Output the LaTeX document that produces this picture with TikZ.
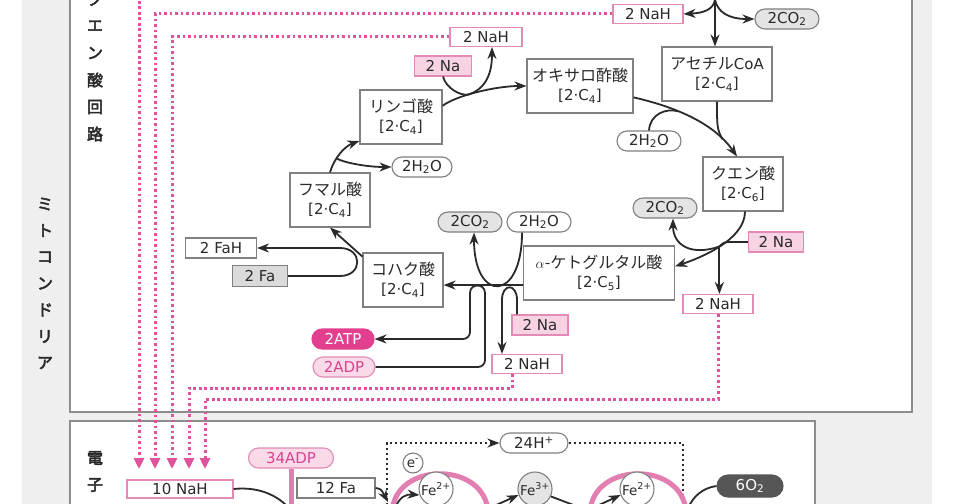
\documentclass[tikz,border=0pt]{standalone}
\usepackage{fontspec}
\setmainfont{DejaVu Sans}
\newfontfamily\jpfont{Noto Sans CJK JP}
\newfontfamily\jpbold[FakeBold=3]{Noto Sans CJK JP}
\usetikzlibrary{arrows.meta}
\usetikzlibrary{calc}
\definecolor{ink}{HTML}{2A2A2A}
\definecolor{boxline}{HTML}{808080}
\definecolor{panelline}{HTML}{8C8C8C}
\definecolor{bggray}{HTML}{EFEFEF}
\definecolor{gasfill}{HTML}{E4E4E4}
\definecolor{fafill}{HTML}{DADADA}
\definecolor{pinkline}{HTML}{E48AB6}
\definecolor{pinkfill}{HTML}{F8D3E3}
\definecolor{dotpink}{HTML}{E0529C}
\definecolor{atpfill}{HTML}{E2408E}
\definecolor{adpfill}{HTML}{FAD9E8}
\definecolor{adptext}{HTML}{D8438E}
\definecolor{arcpink}{HTML}{E27FB0}
\definecolor{oxyfill}{HTML}{565656}
\newcommand{\jp}[1]{{\jpfont\fontsize{16}{19}\selectfont #1}}
\newcommand{\cfour}{[2·C\textsubscript{4}]}
\newcommand{\cfive}{[2·C\textsubscript{5}]}
\newcommand{\csix}{[2·C\textsubscript{6}]}
\newcommand{\cotwo}{2CO\textsubscript{2}}
\newcommand{\htwoo}{2H\textsubscript{2}O}
\newcommand{\sidefont}{\jpbold\fontsize{16}{16}\selectfont}
\begin{document}
\begin{tikzpicture}[x=1pt,y=-1pt, font=\fontsize{15}{19}\selectfont, text=ink,
  acid/.style={draw=boxline, fill=white, line width=1.1pt, align=center, minimum height=54pt, inner sep=0pt},
  nahbox/.style={draw=pinkline, fill=white, line width=1.1pt, minimum height=19pt, minimum width=70pt, inner sep=0pt},
  nabox/.style={nahbox, fill=pinkfill, minimum width=56pt, minimum height=20pt},
  fabox/.style={draw=boxline, fill=white, line width=1.1pt, minimum height=20pt, inner sep=0pt},
  pill/.style={draw=boxline, fill=white, line width=1.1pt, rounded corners=10pt, minimum height=20pt, minimum width=64pt, inner sep=0pt},
  gas/.style={pill, fill=gasfill},
  atp/.style={pill, draw=atpfill, fill=atpfill, text=white, minimum width=62pt},
  adp/.style={pill, draw=pinkline, fill=adpfill, text=adptext, minimum width=62pt},
  ion/.style={circle, draw=boxline, fill=white, line width=1.1pt, minimum size=34pt, inner sep=0pt, font=\fontsize{13.5}{14}\selectfont},
  link/.style={draw=ink, line width=1.8pt},
  flow/.style={link, -{Stealth[length=12pt,width=9pt]}},
  nahline/.style={draw=dotpink, line width=3pt, dash pattern=on 2.6pt off 2.9pt, -{Triangle[length=11pt,width=10pt]}},
  hline/.style={draw=ink, line width=2.4pt, dash pattern=on 2.4pt off 2.6pt},
  panel/.style={draw=panelline, line width=2.5pt, fill=white},
  pinkarc/.style={draw=arcpink, line width=5pt}]
\useasboundingbox (0,0) rectangle (960,503);
\fill[white] (0,0) rectangle (960,503);
\fill[bggray] (22,-5) rectangle (932,510);
\draw[panel] (70,-10) rectangle (912,412);
\draw[panel] (70,421) rectangle (815,520);
% side labels
\foreach \ch [count=\i] in {ミ,ト,コ,ン,ド,リ,ア} {
  \node[font=\sidefont] at (45,{204+26.5*(\i-1)}) {\ch};
}
\foreach \ch [count=\i] in {ク,エ,ン,酸,回,路} {
  \node[font=\sidefont] at (95,{-1+27*(\i-1)}) {\ch};
}
\node[font=\sidefont] at (95,458) {電};
\node[font=\sidefont] at (95,485) {子};

% acetyl CoA
\coordinate (pyr) at (715,-10);
\coordinate (j1) at (715,0);
\node[nahbox] (nah1) at (648,14) {2 NaH};
\node[gas] (co2a) at (787,19) {\cotwo};
\node[acid, minimum width=110pt] (acoa) at (717,74) {\jp{アセチル}CoA\\\cfour};
\draw[link] (pyr) -- (j1);
\draw[flow] (j1) -- (acoa.north -| j1);
\draw[flow] (j1) .. controls (713,10) and (703,13) .. (nah1.east);
\draw[flow] (j1) .. controls (718,12) and (728,19) .. (co2a.west);

% oxaloacetic acid, malic acid
\node[acid, minimum width=106pt] (oxa) at (580,86) {\jp{オキサロ酢酸}\\\cfour};
\node[nahbox, minimum width=72pt] (nah2) at (486,37) {2 NaH};
\node[nabox, minimum width=57pt] (na1) at (443,66) {2 Na};
\node[acid, minimum width=82pt] (mal) at (401,117) {\jp{リンゴ酸}\\\cfour};
\draw[flow] (mal.15) .. controls (455,96) and (495,86) .. coordinate[pos=0.4] (j2) (oxa.west);
\draw[link] (na1.south) .. controls (446,88) and (460,96) .. (j2);
\draw[flow] (j2) .. controls (488,88) and (492,70) .. ([xshift=6pt]nah2.south);

% fumaric acid
\node[acid, minimum width=80pt] (fum) at (330,200) {\jp{フマル酸}\\\cfour};
\node[pill, minimum width=60pt] (h2oa) at (422,167) {\htwoo};
\draw[flow] (fum.north) .. controls (334,158) and (345,146) .. coordinate[pos=0.35] (j3) (mal.-150);
\draw[flow] (j3) .. controls (342,162) and (365,167) .. (h2oa.west);

% succinic acid
\node[fabox, minimum width=71pt] (fah) at (221,248) {2 FaH};
\node[fabox, fill=fafill, minimum width=55pt, minimum height=21pt] (fa) at (260,276) {2 Fa};
\node[acid, minimum width=80pt] (suc) at (403,280) {\jp{コハク酸}\\\cfour};
\draw[flow] (suc.150) -- (fum.south);
\draw[flow] (fa.east) -- (340,276) .. controls (363,276) and (363,248) .. (340,248) -- (fah.east);

% alpha-ketoglutaric acid
\node[acid, minimum width=151pt] (akg) at (599,273) {$\alpha$\jp{-ケトグルタル酸}\\\cfive};
\node[gas] (co2b) at (470,222) {\cotwo};
\node[pill] (h2ob) at (539,222) {\htwoo};
\draw[flow] (akg.-171) -- (akg.-171 -| suc.east);
\draw[flow] ([xshift=-17pt]h2ob.south) .. controls (522,303) and (474,303) .. ([xshift=4pt]co2b.south);
\node[atp] (atp) at (343,339) {2ATP};
\node[adp] (adp) at (344,367) {2ADP};
\draw[flow, rounded corners=7pt] (adp.east) -- (485,367) -- (485,300) .. controls (485,283) and (470,283) .. (470,300) -- (470,339) -- (atp.east);
\node[nabox] (na2) at (540,325) {2 Na};
\node[nahbox] (nah3) at (527,364) {2 NaH};
\draw[flow] ([xshift=-23pt]na2.north) -- (517,300) .. controls (517,283) and (502,283) .. (502,300) -- ([xshift=-25pt]nah3.north);

% citric acid
\node[acid, minimum width=80pt] (cit) at (743,184) {\jp{クエン酸}\\\csix};
\node[pill] (h2oc) at (649,141) {\htwoo};
\draw[flow] (oxa.-12) .. controls (680,108) and (715,125) .. coordinate[pos=0.35] (jw) coordinate[pos=0.8] (jc) ([xshift=-6pt]cit.north);
\draw[link] (acoa.south) .. controls (717,128) .. (jc);
\draw[link] (h2oc.north) .. controls (650,114) and (666,108) .. (jw);
\node[gas] (co2c) at (665,208) {\cotwo};
\node[nabox, minimum width=55pt] (na3) at (776,242) {2 Na};
\node[nahbox] (nah4) at (718,304) {2 NaH};
\draw[flow] ([xshift=2pt]cit.south) .. controls (745,240) and (700,258) .. coordinate[pos=0.5] (jk) (akg.5);
\draw[flow] (jk) .. controls (692,256) and (673,246) .. ([xshift=8pt]co2c.south);
\draw[link] (na3.west) -- (732,242) .. controls (724,242) .. (jk);
\draw[flow] (jk) -- (jk |- nah4.north);

% NaH to the electron transport chain
\foreach \x [count=\i] in {139,155,172,189,205} {
  \coordinate (tip\i) at (\x,469);
}
\draw[nahline] (139,-10) -- (tip1);
\draw[nahline] (nah1.west) -| (tip2);
\draw[nahline] (nah2.west) -| (tip3);
\draw[nahline] ([xshift=-15pt]nah3.south) -- ++(0,14) -| (tip4);
\draw[nahline] (nah4.south) -- ++(0,85) -| (tip5);

% electron transport chain
\node[nahbox, minimum width=106pt, minimum height=18pt] (nah10) at (180,489) {10 NaH};
\node[adp, minimum width=85pt] (adp34) at (291,458) {34ADP};
\draw[draw=arcpink, line width=5pt] (adp34.south) -- ++(0,60);
\node[fabox, minimum width=78pt] (fa12) at (336,488) {12 Fa};
\coordinate (out10) at (292,512);
\draw[link] (nah10.east) .. controls (262,486) and (282,498) .. (out10);
\coordinate (infa) at (388,502);
\draw[flow] (fa12.east) .. controls (381,489) .. (infa);
\node[pill, minimum width=68pt] (h24) at (534,443) {24H\textsuperscript{+}};
\draw[hline, -{Stealth[length=12pt,width=9pt]}] (387,510) -- (387,443) -- (h24.west);
\draw[hline] (h24.east) -- (683,443) -- (683,510);
\draw[pinkarc] (392,512) .. controls (395,461) and (485,461) .. (488,512);
\draw[pinkarc] (590,512) .. controls (593,461) and (683,461) .. (686,512);
\node[ion] (fe1) at (436,489) {Fe\textsuperscript{2+}};
\node[ion, fill=gasfill] (fe2) at (535,489) {Fe\textsuperscript{3+}};
\node[ion] (fe3) at (637,489) {Fe\textsuperscript{2+}};
\node[ion, minimum size=20pt] (el) at (413,463) {e\textsuperscript{-}};
\coordinate (in1) at (396,506);
\coordinate (in2) at (494,506);
\coordinate (out2) at (576,506);
\coordinate (in3) at (597,506);
\draw[flow] (in1) .. controls (400,497) and (406,494) .. (fe1.200);
\draw[flow] (in2) -- (fe2.200);
\draw[link] (fe2.-25) -- (out2);
\draw[flow] (in3) -- (fe3.200);
\node[pill, draw=oxyfill, fill=oxyfill, text=white, minimum width=66pt, minimum height=22pt, rounded corners=11pt] (o2) at (750,486) {6O\textsubscript{2}};
\coordinate (out3) at (688,508);
\draw[link] (o2.west) .. controls (702,488) and (693,497) .. (out3);
\end{tikzpicture}
\end{document}
